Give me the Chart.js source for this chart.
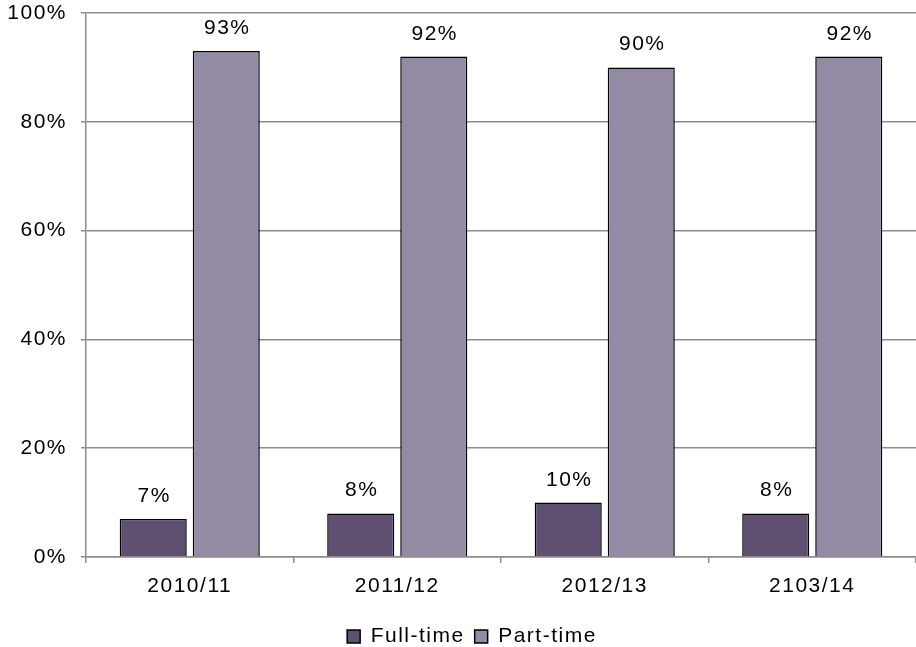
<!DOCTYPE html>
<html>
<head>
<meta charset="utf-8">
<title>Full-time / Part-time</title>
<script src="https://cdn.jsdelivr.net/npm/chart.js@4.4.1/dist/chart.umd.min.js"></script>
<style>
  html, body { margin: 0; padding: 0; background: #fff; }
  #wrap { width: 916px; height: 647px; position: relative; }
</style>
</head>
<body>
<div id="wrap"><canvas id="chart"></canvas></div>
<script>
// years and shares (percent)
const years = ['2010/11', '2011/12', '2012/13', '2103/14'];
const fullTime = [7, 8, 10, 8];
const partTime = [93, 92, 90, 92];
const yTicks = [0, 20, 40, 60, 80, 100];

const FONT = { family: 'Liberation Sans, Arial, sans-serif', size: 21 };
const GRID = '#8c8c8c';
const SPACING = '1.5px';

// Excel-ish wide text: canvas letterSpacing, reapplied after every canvas resize
const spacing = {
    id: 'spacing',
    beforeLayout(chart) { chart.ctx.letterSpacing = SPACING; },
    afterLayout(chart) {
        // legend sits a little right of centre and close to the bottom edge
        const lg = chart.legend;
        lg.left += 14;
        lg.right += 14;
        lg.top += 10;
        lg.bottom += 10;
    },
    beforeDraw(chart) { chart.ctx.letterSpacing = SPACING; }
};

// value labels above each bar
const barLabels = {
    id: 'barLabels',
    afterDatasetsDraw(chart) {
        const ctx = chart.ctx;
        ctx.save();
        ctx.font = FONT.size + 'px ' + FONT.family;
        ctx.letterSpacing = SPACING;
        ctx.fillStyle = '#000';
        ctx.textAlign = 'center';
        ctx.textBaseline = 'alphabetic';
        chart.data.datasets.forEach((ds, i) => {
            chart.getDatasetMeta(i).data.forEach((bar, j) => {
                ctx.fillText(ds.data[j] + '%', bar.x + 1, bar.y - 17);
            });
        });
        ctx.restore();
    }
};

new Chart(document.getElementById('chart'), {
    type: 'bar',
    data: {
        labels: years,
        datasets: [
            {
                label: 'Full-time',
                data: fullTime,
                backgroundColor: '#5f4f71',
                borderColor: '#000',
                borderWidth: 1.5
            },
            {
                label: 'Part-time',
                data: partTime,
                backgroundColor: '#938aa3',
                borderColor: '#000',
                borderWidth: 1.5
            }
        ]
    },
    options: {
        responsive: true,
        maintainAspectRatio: false,
        animation: false,
        datasets: {
            bar: { categoryPercentage: 0.704, barPercentage: 0.918 }
        },
        layout: { padding: { top: 13, right: 0, bottom: 0, left: 0 } },
        scales: {
            x: {
                grid: { drawOnChartArea: false, drawTicks: true, tickLength: 6, color: GRID, lineWidth: 1.5 },
                border: { color: GRID, width: 1.5 },
                ticks: { color: '#000', font: FONT, padding: 11, maxRotation: 0 },
                afterFit(scale) { scale.height = 49; }
            },
            y: {
                min: 0,
                max: 100,
                afterBuildTicks(scale) { scale.ticks = yTicks.map(v => ({ value: v })); },
                grid: { color: GRID, lineWidth: 1.5, tickLength: 5 },
                border: { color: GRID, width: 1.5 },
                ticks: { color: '#000', font: FONT, padding: 14, callback: v => v + '%' },
                afterFit(scale) {
                    scale.width = 86;
                    scale.paddingTop = 0;
                    scale.paddingBottom = 0;
                }
            }
        },
        plugins: {
            legend: {
                position: 'bottom',
                labels: {
                    color: '#000',
                    font: FONT,
                    boxWidth: 13,
                    boxHeight: 13,
                    padding: 10
                }
            },
            tooltip: { enabled: false }
        }
    },
    plugins: [spacing, barLabels]
});
</script>
</body>
</html>
